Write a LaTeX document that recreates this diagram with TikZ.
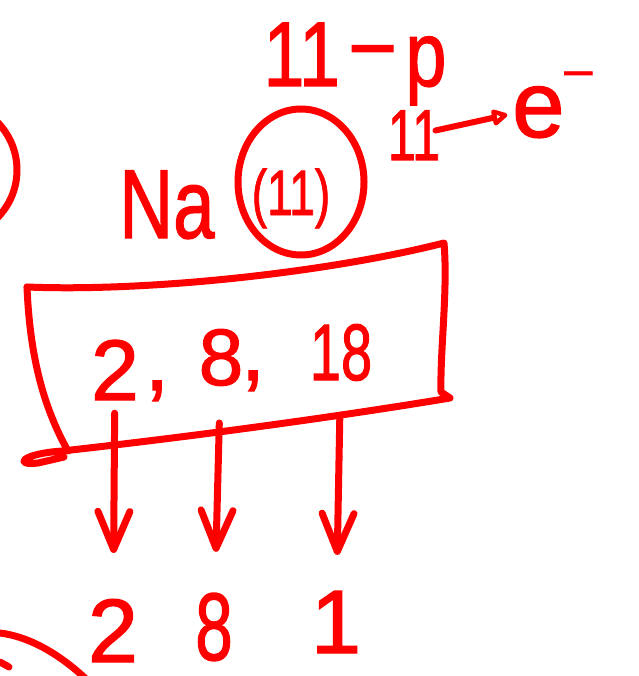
\documentclass[tikz,border=0pt]{standalone}
\usepackage{fontspec}
\setmainfont{Liberation Sans}[FakeBold=1.5]
\usepackage{graphicx}
\usetikzlibrary{arrows.meta,shapes.geometric}
\definecolor{ink}{RGB}{255,0,0}
% font size helper and horizontal squeeze for narrow hand lettering
\newcommand{\hsz}[2]{{\fontsize{#1}{#1}\selectfont #2}}
\newcommand{\hsqueeze}[2]{\scalebox{#1}[1]{#2}}

\begin{document}
\begin{tikzpicture}[x=1pt,y=-1pt,
  pen/.style={draw=ink, line width=7pt, line cap=round, line join=round},
  hand/.style={text=ink, inner sep=0pt, anchor=base},
  downarrow/.style={pen, line width=7pt,
    -{Straight Barb[length=38pt,width=32pt,line width=7pt,round]}},
  smallarrow/.style={pen, line width=6pt,
    -{Triangle[open,length=18pt,width=18pt,line width=6pt,round]}}]

\fill[white] (0,0) rectangle (638,676);
\useasboundingbox (0,0) rectangle (638,676);
\clip (0,0) rectangle (638,676);

% part of a neighbouring sketch at the left edge
\draw[pen] (-51,170) circle (68);
\draw[pen] (0,633) .. controls (25,636) and (55,650) .. (86,679);
\draw[pen] (0,662) -- (9,667);

% protons and electrons
\node[hand] (pro) at (355,86) {\hsqueeze{0.8}{\hsz{92}{11\,\raisebox{14pt}{–}\,p}}};
\node[hand] (el) at (414,160) {\hsqueeze{0.7}{\hsz{72}{11}}};
\node[hand, anchor=base west] (elec) at (512,137) {\hsz{94}{e}\raisebox{51pt}{\hsz{50}{–}}};
\draw[smallarrow, shorten <=22pt, shorten >=46pt] (el.center) -- (elec.center);

% element symbol and nucleus
\node[hand] (na) at (167,238) {\hsqueeze{0.76}{\hsz{98}{Na}}};
\node[draw=ink, line width=7pt, ellipse, minimum width=126pt,
      minimum height=146pt, inner sep=0pt] (nuc) at (301,182) {};
\node[hand] (z) at (291,215) {\hsqueeze{0.72}{\hsz{64}{(11)}}};

% shell capacity box
\draw[pen] (27,287) .. controls (150,292) and (330,272) .. (444,243)
  .. controls (448,290) and (440,350) .. (441,392) -- (450,398)
  .. controls (330,418) and (180,438) .. (62,451)
  .. controls (20,454) and (14,466) .. (38,463) -- (64,457);
\draw[pen] (27,287) .. controls (30,360) and (45,410) .. (68,451);

\node[hand] (d1) at (115,400) {\hsz{86}{2}};
\node[hand] (c1) at (157,390) {\hsz{86}{,}};
\node[hand] (d2) at (221,385) {\hsz{80}{8}};
\node[hand] (c2) at (253,380) {\hsz{86}{,}};
\node[hand] (d3) at (341,380) {\hsqueeze{0.7}{\hsz{80}{18}}};

% actual shell filling
\node[hand] (b1) at (113,662) {\hsz{90}{2}};
\node[hand] (b2) at (214,660) {\hsqueeze{0.7}{\hsz{96}{8}}};
\node[hand] (b3) at (336,653) {\hsz{90}{1}};

\draw[downarrow, shorten <=13pt, shorten >=46pt] (d1) -- (b1);
\draw[downarrow, shorten <=37pt, shorten >=41pt] (d2) -- (b2);
\draw[downarrow, shorten <=38pt, shorten >=36pt] (d3) -- (b3);
\end{tikzpicture}
\end{document}
